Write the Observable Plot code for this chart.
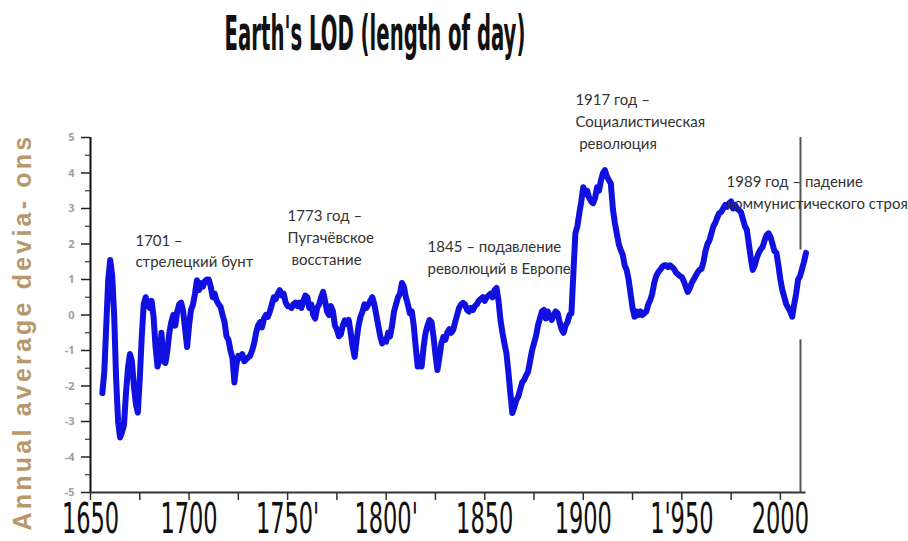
<!DOCTYPE html>
<html><head><meta charset="utf-8">
<script src="https://cdn.jsdelivr.net/npm/d3@7"></script>
<script src="https://cdn.jsdelivr.net/npm/@observablehq/plot@0.6"></script>
<style>
body{margin:0;background:#fff;}
#wrap{position:relative;width:908px;height:541px;overflow:hidden;background:#fff;}
#title{position:relative;height:80px;}
#title span{position:absolute;left:375px;top:12px;white-space:nowrap;font-family:"Liberation Sans Narrow","DejaVu Sans Condensed",sans-serif;font-weight:bold;font-size:28.4px;line-height:1;color:#111;transform:translateX(-50%) scale(0.77,1.67);transform-origin:50% 0;}
text.ylab{letter-spacing:3.6px;}
</style></head>
<body><div id="wrap"><div id="title"><span>Earth's LOD (length of day)</span></div><div id="chart"></div></div>
<script>
// ---- data (annual LOD deviations) ----
const startYear = 1656;
const lod = [
  -2.2, -1.6, -0.3, 1.0,
  1.55, 1.1, 0.0, -1.8, -3.0, -3.45, -3.3, -3.1, -2.2, -1.5,
  -1.1, -1.3, -2.0, -2.5, -2.75, -1.8, -0.6, 0.3, 0.5, 0.3,
  0.2, 0.4, -0.05, -0.9, -1.45, -1.2, -0.5, -1.3, -1.35, -1.0,
  -0.5, -0.2, 0.0, -0.3, 0.1, 0.3, 0.35, 0.1, -0.4, -0.9,
  -0.3, 0.15, 0.3, 0.6, 0.98, 0.7, 0.9, 0.8, 0.95, 1.0,
  1.0, 0.8, 0.5, 0.6, 0.4, 0.3, 0.23, 0.0, -0.2, -0.6,
  -0.7, -1.0, -1.2, -1.9, -1.4, -1.15, -1.2, -1.1, -1.3, -1.25,
  -1.2, -1.15, -1.0, -0.8, -0.5, -0.3, -0.2, -0.35, -0.1, 0.0,
  -0.05, 0.1, 0.3, 0.5, 0.45, 0.6, 0.7, 0.55, 0.6, 0.35,
  0.25, 0.25, 0.2, 0.3, 0.35, 0.25, 0.35, 0.2, 0.4, 0.55,
  0.5, 0.2, 0.3, 0.0, -0.1, 0.2, 0.3, 0.5, 0.65, 0.4,
  0.1, 0.0, 0.25, 0.1, -0.3, -0.4, -0.6, -0.55, -0.3, -0.15,
  -0.25, -0.14, -0.5, -0.9, -1.18, -0.7, -0.3, -0.05, 0.1, 0.3,
  0.2, 0.3, 0.4, 0.5, 0.3, 0.0, -0.3, -0.6, -0.8, -0.7,
  -0.75, -0.5, -0.6, -0.3, 0.1, 0.3, 0.5, 0.6, 0.9, 0.8,
  0.5, 0.3, 0.05, 0.1, -0.3, -0.9, -1.45, -1.2, -1.45, -0.9,
  -0.5, -0.3, -0.14, -0.2, -0.6, -1.1, -1.55, -1.2, -0.8, -0.62,
  -0.7, -0.5, -0.4, -0.5, -0.42, -0.2, 0.0, 0.2, 0.3, 0.34,
  0.3, 0.15, 0.1, 0.2, 0.14, 0.25, 0.3, 0.4, 0.45, 0.5,
  0.4, 0.5, 0.55, 0.6, 0.5, 0.7, 0.76, 0.4, -0.14, -0.5,
  -0.8, -1.07, -1.6, -2.2, -2.76, -2.6, -2.4, -2.3, -2.1, -1.9,
  -1.83, -1.7, -1.6, -1.3, -1.0, -0.8, -0.6, -0.3, -0.1, 0.1,
  0.14, -0.1, 0.1, -0.05, -0.14, 0.0, 0.1, 0.05, -0.2, -0.4,
  -0.5, -0.3, -0.2, 0.0, 0.05, 1.2, 2.3, 2.5, 2.87, 3.2,
  3.6, 3.4, 3.5, 3.3, 3.2, 3.15, 3.3, 3.6, 3.5, 3.8,
  4.0, 4.08, 3.9, 3.8, 3.7, 3.0, 2.6, 2.3, 2.0, 1.83,
  1.7, 1.4, 1.27, 1.0, 0.6, 0.2, -0.05, 0.1, 0.0, 0.1,
  0.0, 0.05, 0.1, 0.3, 0.42, 0.6, 0.9, 1.1, 1.2, 1.27,
  1.35, 1.4, 1.4, 1.35, 1.4, 1.35, 1.3, 1.2, 1.15, 1.1,
  1.07, 0.95, 0.8, 0.65, 0.75, 0.9, 1.0, 1.1, 1.2, 1.27,
  1.3, 1.5, 1.8, 2.0, 2.1, 2.3, 2.5, 2.6, 2.75, 2.87,
  2.9, 3.0, 3.1, 3.05, 3.15, 3.2, 3.0, 3.1, 3.0, 2.95,
  2.9, 2.7, 2.5, 2.4, 2.0, 1.6, 1.27, 1.4, 1.6, 1.75,
  1.85, 1.92, 2.1, 2.25, 2.3, 2.2, 2.0, 1.8, 1.75, 1.4,
  1.0, 0.7, 0.5, 0.3, 0.2, 0.1, -0.05, 0.3, 0.6, 1.0,
  1.1, 1.3, 1.5, 1.75
];
const years = d3.range(startYear, startYear + lod.length);

const xTicks = [1650,1675,1700,1725,1750,1775,1800,1825,1850,1875,1900,1925,1950,1975,2000];
const xTickLabels = ["1650","","1700","","1750'","","1800'","","1850","","1900","","1'950","","2000"];
const yTicks = [-5,-4,-3,-2,-1,0,1,2,3,4,5];
const yTickLabels = ["-5","-4","-3","-2","-1","0","1","2","3","4","5"];
const yMinorTicks = [-4.5,-3.5,-2.5,-1.5,-0.5,0.5,1.5,2.5,3.5,4.5];
const yLabel = "Annual average devia- ons";

const noteYears = [1672.8, 1750, 1821, 1896, 1972.7];
const noteValues = [2.39, 3.07, 2.2, 6.34, 4.03];
const noteTexts = [
  "1701 –\nстрелецкий бунт",
  "1773 год –\nПугачёвское\n\u00a0восстание",
  "1845 – подавление\nреволюций в Европе",
  "1917 год –\nСоциалистическая\n\u00a0революция",
  "1989 год – падение\nкоммунистического строя"
];

const frameYear = [2010.2];
const frameSegTop = [5, 1.83];
const frameSegBottom = [-0.7, -5];

// ---- build ----
const data = years.map((y, i) => ({year: y, v: lod[i]}));
const notes = noteTexts.map((t, i) => ({x: noteYears[i], y: noteValues[i], t}));
const segs = [frameSegTop, frameSegBottom].map(s => ({x: frameYear[0], y1: s[0], y2: s[1]}));
const labelMapX = new Map(xTicks.map((t, i) => [t, xTickLabels[i]]));
const labelMapY = new Map(yTicks.map((t, i) => [t, yTickLabels[i]]));
const narrow = "'Liberation Sans Narrow', 'DejaVu Sans Condensed', sans-serif";

const H = 461, MB = 49, TICK = 8, PAD = 2;
const chart = Plot.plot({
  width: 908, height: H,
  marginLeft: 90, marginRight: 102.5, marginTop: 57, marginBottom: MB,
  x: {domain: [1650, 2013]},
  y: {domain: [-5, 5]},
  style: {background: "white", color: "#111", overflow: "visible"},
  marks: [
    Plot.ruleX(segs, {x: "x", y1: "y1", y2: "y2", stroke: "#555", strokeWidth: 2}),
    Plot.line(data, {x: "year", y: "v", stroke: "#1010e0", strokeWidth: 6, strokeLinejoin: "round", strokeLinecap: "round"}),
    Plot.ruleY([-5], {stroke: "#333", strokeWidth: 2}),
    Plot.ruleX([1650], {stroke: "#111", strokeWidth: 2}),
    Plot.axisX({ticks: xTicks, tickSize: TICK, tickPadding: PAD, tickFormat: d => labelMapX.get(d) ?? "",
      fontSize: 25, fontFamily: narrow, stroke: "#333", strokeWidth: 1.5, fill: "#111", label: null}),
    Plot.axisY({ticks: yTicks, tickSize: 9, tickPadding: 7, tickFormat: d => labelMapY.get(d) ?? "",
      fontSize: 11, fontWeight: "bold", stroke: "#222", strokeWidth: 1.5, fill: "#a0a0a0", label: null}),
    Plot.axisY({ticks: yMinorTicks, tickSize: 5, tickFormat: () => "", stroke: "#333", strokeWidth: 1.2, label: null}),
    Plot.text([yLabel], {frameAnchor: "left", textAnchor: "middle", rotate: -90, dx: -68, dy: 17, fontSize: 25,
      fontWeight: "bold", fontFamily: "'Liberation Sans', Arial, sans-serif", fill: "#b8986a", ariaLabel: "ylabel"}),
    Plot.text(notes, {x: "x", y: "y", text: "t", textAnchor: "start", lineAnchor: "top", lineHeight: 1.45,
      fontFamily: "Lato, 'Open Sans', sans-serif", fontSize: 15, fill: "#333"})
  ]
});
document.getElementById("chart").appendChild(chart);

// stretch the x tick labels vertically (tall narrow digits as in the picture)
try {
  const g = chart.querySelector('g[aria-label="x-axis tick label"]');
  if (g) {
    const yTop = H - MB + TICK + PAD;
    const wrap = document.createElementNS("http://www.w3.org/2000/svg", "g");
    wrap.setAttribute("transform", `translate(0,${yTop}) scale(1,1.68) translate(0,${-yTop})`);
    g.parentNode.insertBefore(wrap, g);
    wrap.appendChild(g);
  }
} catch (e) { console.error(e); }
// widen the spacing of the y label letters
chart.querySelectorAll("text").forEach(t => {
  if (t.textContent === yLabel) {
    t.classList.add("ylab");
    t.style.letterSpacing = "3.2px";
  }
});
</script>
</body></html>
